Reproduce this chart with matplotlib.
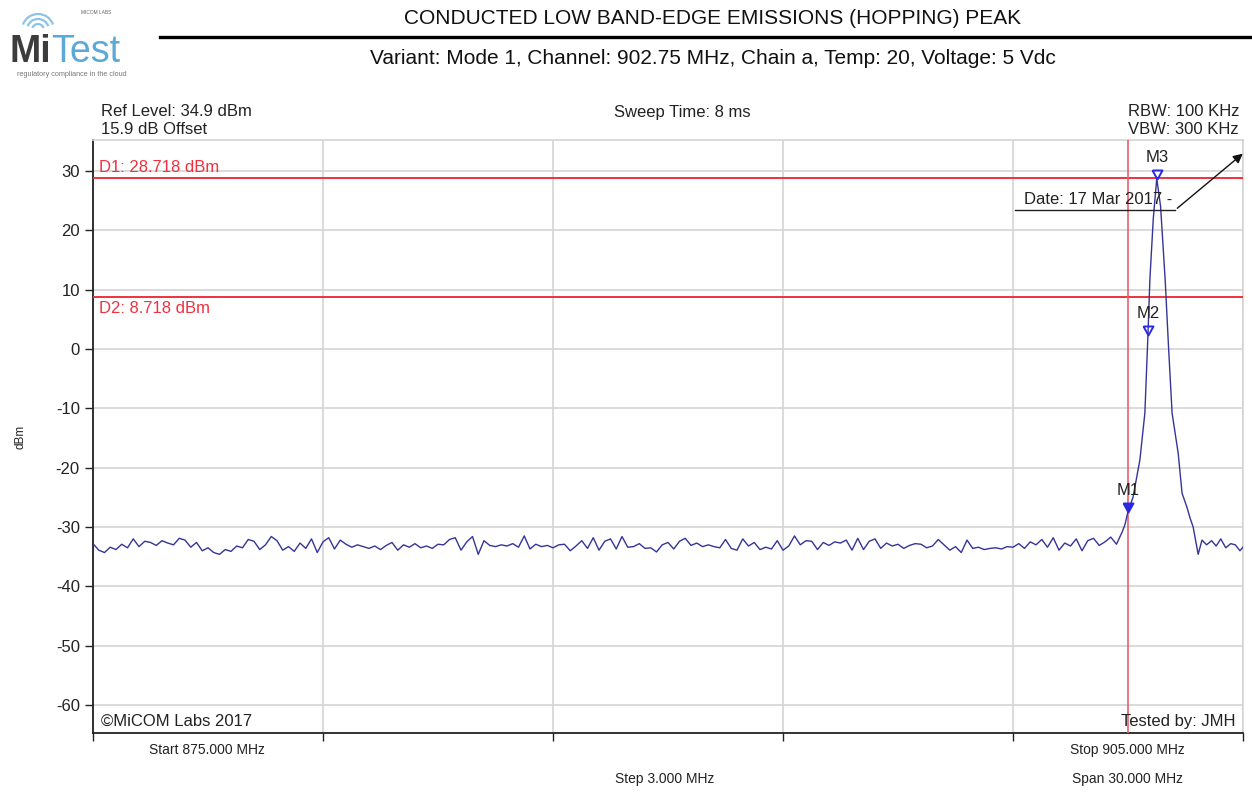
import numpy as np
import matplotlib
matplotlib.use("Agg")
import matplotlib.pyplot as plt
from matplotlib.lines import Line2D
from matplotlib.patches import Arc

plt.rcParams["font.family"] = ["Liberation Sans", "DejaVu Sans"]

# ── Sweep settings ─────────────────────────────────────────
START_MHZ = 875.0
STOP_MHZ = 905.0
GRID_MHZ = [875, 881, 887, 893, 899, 905]
Y_TICKS = [-60, -50, -40, -30, -20, -10, 0, 10, 20, 30]
BAND_EDGE_MHZ = 902.0
D1_DBM = 28.718
D2_DBM = 8.718

# ── Trace: noise floor up to the band edge ─────────────────
floor_dbm = [
    -32.8, -33.9, -34.3, -33.4, -33.8, -32.9, -33.5, -32.0, -33.3, -32.4,
    -32.6, -33.1, -32.3, -32.7, -33.0, -31.9, -32.2, -33.4, -32.6, -34.0,
    -33.5, -34.3, -34.6, -33.8, -34.1, -33.2, -33.5, -32.1, -32.4, -33.8,
    -33.0, -31.6, -32.3, -33.9, -33.3, -34.1,
    -32.7, -33.6, -32.0, -34.3, -32.5, -31.8, -33.7, -32.2, -32.9, -33.4,
    -33.0, -33.3, -33.6, -33.2, -33.8, -33.1, -32.6, -33.9, -33.0, -33.4,
    -32.8, -33.5, -33.2, -33.6, -32.9, -33.0, -32.1, -31.8, -33.9, -32.5,
    -31.6, -34.6, -32.3, -33.1, -33.3, -33.0,
    -33.2, -32.8, -33.4, -31.5, -33.7, -32.9, -33.3, -33.1, -33.5, -33.0,
    -32.9, -34.0, -33.2, -32.3, -33.6, -31.8, -33.9, -32.4, -32.0, -33.7,
    -31.6, -33.4, -33.3, -32.8, -33.6, -33.5, -34.2, -33.0, -32.6, -33.7,
    -32.4, -31.9, -33.1, -32.7, -33.3, -33.0,
    -33.3, -33.5, -32.1, -33.6, -33.9, -32.0, -33.2, -32.6, -33.8, -33.4,
    -33.7, -32.3, -33.9, -33.2, -31.5, -33.0, -32.3, -32.4, -33.8, -32.6,
    -33.1, -32.5, -32.7, -32.2, -33.9, -31.9, -33.8, -32.4, -32.0, -33.6,
    -32.7, -33.2, -32.9, -33.6, -33.1, -32.8,
    -32.9, -33.5, -33.2, -32.1, -33.0, -33.9, -33.3, -34.3, -32.2, -33.6,
    -33.4, -33.8, -33.6, -33.5, -33.7, -33.3, -33.4, -32.8, -33.6, -32.5,
    -33.0, -32.1, -33.4, -31.8, -33.9, -32.7, -33.2, -32.0, -34.0, -32.3,
    -31.9, -33.1, -32.5, -31.7, -32.9, -30.8,
]
floor_mhz = np.linspace(START_MHZ, 901.85, len(floor_dbm))

# ── Trace: hopping channel and upper skirt ─────────────────
peak_mhz = [901.92, 902.00, 902.13, 902.31, 902.44, 902.52, 902.57, 902.66,
            902.75, 902.85, 902.97, 903.06, 903.15, 903.31, 903.41, 903.54,
            903.62, 903.70, 903.83, 903.93, 904.05, 904.18, 904.30, 904.42,
            904.55, 904.68, 904.80, 904.92, 905.00]
peak_dbm = [-29.6, -27.4, -25.0, -18.7, -10.8, 2.3, 11.6, 22.0,
            28.7, 24.0, 11.6, 0.0, -10.8, -17.6, -24.3, -26.7,
            -28.5, -30.0, -34.6, -32.2, -33.0, -32.3, -33.2, -32.0,
            -33.5, -32.8, -33.0, -34.0, -33.4]

# ── Markers ────────────────────────────────────────────────
marker_names = ["M1", "M2", "M3"]
marker_mhz = [902.00, 902.52, 902.75]
marker_dbm = [-27.4, 2.3, 28.7]
marker_filled = [True, False, False]

TRACE_COLOR = "#34349a"
MARK_COLOR = "#2a2ae0"
RED = "#f0303f"
GRID = "#d4d4d4"
INK = "#222222"

fig = plt.figure(figsize=(12.52, 7.94), dpi=100)
ax = fig.add_axes([93 / 1252, 1 - 733 / 794, 1150 / 1252, 593 / 794])

freq = np.concatenate([floor_mhz, peak_mhz])
level = np.concatenate([floor_dbm, peak_dbm])
ax.plot(freq, level, color=TRACE_COLOR, lw=1.0, zorder=4)

# display lines and band edge
ax.axhline(D1_DBM, color=RED, lw=1.4, zorder=3)
ax.axhline(D2_DBM, color=RED, lw=1.4, zorder=3)
ax.axvline(BAND_EDGE_MHZ, color="#ea6070", lw=1.2, zorder=3)
ax.text(875.15, D1_DBM + 0.6, f"D1: {D1_DBM:.3f} dBm", color=RED,
        fontsize=12, va="bottom", ha="left")
ax.text(875.15, D2_DBM - 0.6, f"D2: {D2_DBM:.3f} dBm", color=RED,
        fontsize=12, va="top", ha="left")

# marker triangles with the tip on the trace
tri = [(-0.55, 1.0), (0.55, 1.0), (0.0, 0.0), (-0.55, 1.0)]
for name, fx, fy, filled in zip(marker_names, marker_mhz, marker_dbm, marker_filled):
    ax.plot(fx, fy, marker=tri, markersize=13, color=MARK_COLOR,
            markerfacecolor=MARK_COLOR if filled else "none",
            markeredgewidth=1.4, zorder=5)
    ax.annotate(name, (fx, fy), xytext=(0, 10), textcoords="offset points",
                ha="center", va="bottom", fontsize=12, color=INK, zorder=6)

# date stamp with leader arrow
ax.text(899.3, 23.9, "Date: 17 Mar 2017 -", fontsize=12, color=INK,
        ha="left", va="bottom", zorder=6)
ax.plot([899.05, 903.23], [23.4, 23.4], color=INK, lw=1.0, zorder=6)
ax.annotate("", xy=(905.05, 33.2), xytext=(903.23, 23.4),
            arrowprops=dict(arrowstyle="-|>", color="#111111", lw=1.0,
                            mutation_scale=14),
            annotation_clip=False, zorder=6)

ax.text(875.2, -61.5, "\u00a9MiCOM Labs 2017", fontsize=12, color=INK,
        ha="left", va="top")
ax.text(904.8, -61.5, "Tested by: JMH", fontsize=12, color=INK,
        ha="right", va="top")

ax.set_xlim(START_MHZ, STOP_MHZ)
ax.set_ylim(-64.7, 35.2)
ax.set_xticks(GRID_MHZ)
ax.set_xticklabels([])
ax.set_yticks(Y_TICKS)
ax.set_yticklabels([str(v) for v in Y_TICKS], fontsize=12, color=INK)
ax.tick_params(axis="both", direction="out", length=6, width=1.0, color=INK)
ax.grid(True, color=GRID, lw=1.2, zorder=0)
ax.set_axisbelow(True)
for side in ("top", "right"):
    ax.spines[side].set_color(GRID)
    ax.spines[side].set_linewidth(1.2)
for side in ("left", "bottom"):
    ax.spines[side].set_color(INK)
    ax.spines[side].set_linewidth(1.3)
ax.set_ylabel("dBm", fontsize=8.5, color=INK)
ax.yaxis.set_label_coords(-0.058, 0.5)

# analyser settings around the plot area
fig.text(101 / 1252, 1 - 111 / 794, "Ref Level: 34.9 dBm", fontsize=12,
         color=INK, va="center")
fig.text(101 / 1252, 1 - 130 / 794, "15.9 dB Offset", fontsize=12,
         color=INK, va="center")
fig.text(682 / 1252, 1 - 112 / 794, "Sweep Time: 8 ms", fontsize=12,
         color=INK, va="center", ha="center")
fig.text(1239 / 1252, 1 - 111 / 794, "RBW: 100 KHz", fontsize=12,
         color=INK, va="center", ha="right")
fig.text(1239 / 1252, 1 - 130 / 794, "VBW: 300 KHz", fontsize=12,
         color=INK, va="center", ha="right")
fig.text(207 / 1252, 1 - 750 / 794, f"Start {START_MHZ:.3f} MHz", fontsize=10,
         color=INK, va="center", ha="center")
fig.text(1127 / 1252, 1 - 750 / 794, f"Stop {STOP_MHZ:.3f} MHz", fontsize=10,
         color=INK, va="center", ha="center")
fig.text(665 / 1252, 1 - 779 / 794, "Step 3.000 MHz", fontsize=10,
         color=INK, va="center", ha="center")
fig.text(1127 / 1252, 1 - 779 / 794, f"Span {STOP_MHZ - START_MHZ:.3f} MHz",
         fontsize=10, color=INK, va="center", ha="center")

# report header
fig.text(713 / 1252, 1 - 18 / 794, "CONDUCTED LOW BAND-EDGE EMISSIONS (HOPPING) PEAK",
         fontsize=15, color="#111111", va="center", ha="center")
fig.add_artist(Line2D([160 / 1252, 1.0], [1 - 37 / 794, 1 - 37 / 794],
                      color="black", lw=2.4, transform=fig.transFigure))
fig.text(713 / 1252, 1 - 58 / 794,
         "Variant: Mode 1, Channel: 902.75 MHz, Chain a, Temp: 20, Voltage: 5 Vdc",
         fontsize=15, color="#111111", va="center", ha="center")

# logo block
logo = fig.add_axes([0, 1 - 84 / 794, 150 / 1252, 84 / 794])
logo.set_xlim(0, 150)
logo.set_ylim(84, 0)
logo.axis("off")
logo.text(9, 52, "Mi", fontsize=27, fontweight="bold", color="#3c3c3c",
          va="center", ha="left")
logo.text(51, 52, "Test", fontsize=27, color="#5aa9d6", va="center", ha="left")
logo.text(96, 13, "MICOM LABS", fontsize=3.5, color="#666666", va="center", ha="center")
logo.text(72, 75, "regulatory compliance in the cloud", fontsize=5.2,
          color="#777777", va="center", ha="center")
for r in (6, 11, 16):
    logo.add_patch(Arc((38, 30), 2 * r, 2 * r, theta1=200, theta2=340,
                       color="#8cc4e6", lw=1.6))

fig.savefig("out.png", dpi=100)
